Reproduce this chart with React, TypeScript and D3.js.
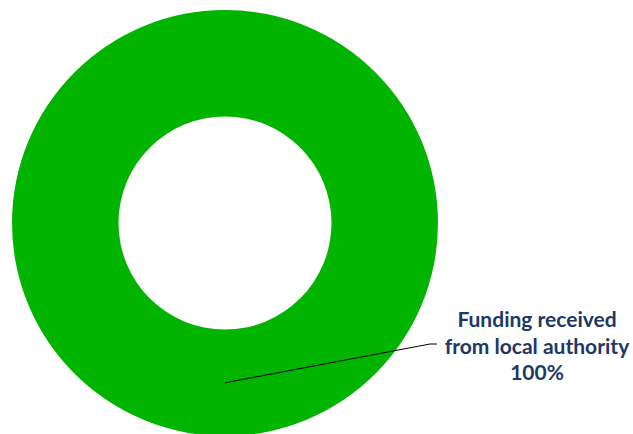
import React from "react";
import * as d3 from "d3";

const categories = ["Funding received from local authority"];
const values = [100];
const labelLines = ["Funding received", "from local authority"];

const width = 633;
const height = 434;

export default function App() {
  const cx = 225;
  const cy = 223;
  const outerR = 213;
  const innerR = 106.5;

  const pie = d3.pie<number>().sort(null)(values);
  const arc = d3.arc<d3.PieArcDatum<number>>().innerRadius(innerR).outerRadius(outerR);
  const total = d3.sum(values);

  return (
    <div style={{ position: "fixed", left: 0, top: 0, background: "#fff" }}>
      <svg width={width} height={height} style={{ display: "block" }}>
        <g transform={`translate(${cx},${cy})`}>
          {pie.map((d, i) => {
            const [mx, my] = arc.centroid(d);
            // leader line goes out toward the label at the right
            const elbowX = 430 - cx;
            const elbowY = 344 - cy;
            return (
              <g key={categories[i]}>
                <path d={arc(d) ?? ""} fill="#00B400" />
                <polyline
                  points={`${mx},${my} ${elbowX},${elbowY} ${elbowX + 7},${elbowY}`}
                  fill="none"
                  stroke="#000"
                  strokeWidth={1}
                />
              </g>
            );
          })}
        </g>
        <g
          fontFamily="Lato, 'Open Sans', sans-serif"
          fontWeight="bold"
          fontSize={21}
          fill="#203864"
          textAnchor="middle"
        >
          {labelLines.map((t, i) => (
            <text key={t} x={537} y={327 + i * 26.5}>
              {t}
            </text>
          ))}
          <text x={537} y={327 + 2 * 26.5}>
            {d3.format(".0%")(values[0] / total)}
          </text>
        </g>
      </svg>
    </div>
  );
}
